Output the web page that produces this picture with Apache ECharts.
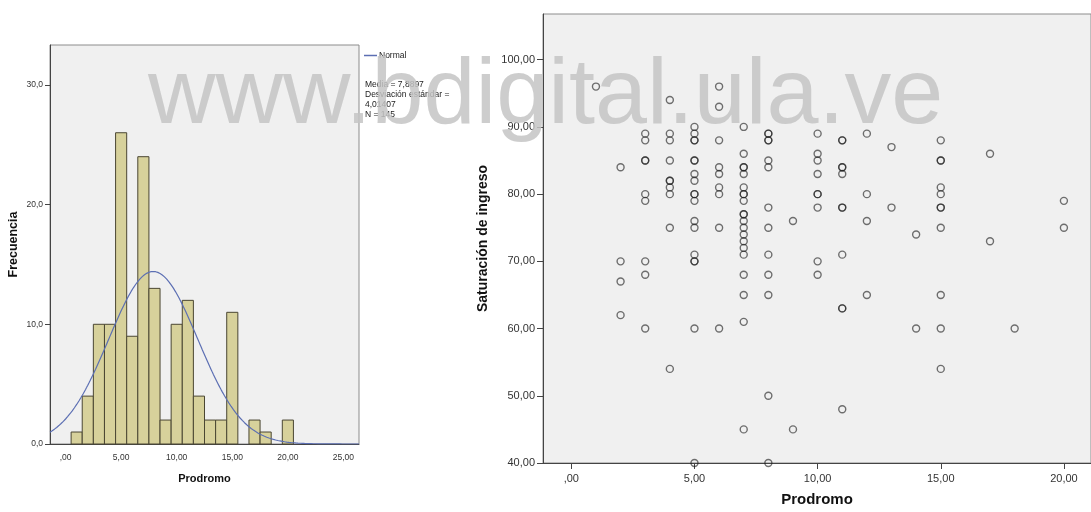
<!DOCTYPE html>
<html>
<head>
<meta charset="utf-8">
<script src="https://cdn.jsdelivr.net/npm/echarts@6/dist/echarts.min.js"></script>
<style>
  html, body { margin: 0; padding: 0; background: #ffffff; }
  #chart { width: 1091px; height: 512px; }
</style>
</head>
<body>
<div id="chart"></div>
<script>
// Histograma de Prodromo: frecuencia por valor entero
const histBins   = [1, 2, 3, 4, 5, 6, 7, 8, 9, 10, 11, 12, 13, 14, 15, 16, 17, 18, 19, 20];
const histCounts = [1, 4, 10, 10, 26, 9, 24, 13, 2, 10, 12, 4, 2, 2, 11, 0, 2, 1, 0, 2];

// Estadísticos de la curva normal ajustada
const normalMean = 7.8897;
const normalSD = 4.01407;
const normalN = 145;

// Marcas de los ejes
const histXTicks = [0, 5, 10, 15, 20, 25];
const histXTickLabels = [',00', '5,00', '10,00', '15,00', '20,00', '25,00'];
const histYTicks = [0, 10, 20, 30];
const histYTickLabels = ['0,0', '10,0', '20,0', '30,0'];
const scatterXTicks = [0, 5, 10, 15, 20];
const scatterXTickLabels = [',00', '5,00', '10,00', '15,00', '20,00'];
const scatterYTicks = [40, 50, 60, 70, 80, 90, 100];
const scatterYTickLabels = ['40,00', '50,00', '60,00', '70,00', '80,00', '90,00', '100,00'];

// Dispersión: Prodromo vs. Saturación de ingreso
const scatterProdromo = [
  1,
  2, 2, 2, 2,
  3, 3, 3, 3, 3, 3, 3, 3, 3,
  4, 4, 4, 4, 4, 4, 4, 4, 4, 4,
  5, 5, 5, 5, 5, 5, 5, 5, 5, 5, 5, 5, 5, 5, 5, 5, 5, 5,
  6, 6, 6, 6, 6, 6, 6, 6, 6,
  7, 7, 7, 7, 7, 7, 7, 7, 7, 7, 7, 7, 7, 7, 7, 7, 7, 7, 7, 7, 7,
  8, 8, 8, 8, 8, 8, 8, 8, 8, 8, 8, 8, 8,
  9, 9,
  10, 10, 10, 10, 10, 10, 10, 10, 10,
  11, 11, 11, 11, 11, 11, 11, 11, 11, 11, 11,
  12, 12, 12, 12,
  13, 13,
  14, 14,
  15, 15, 15, 15, 15, 15, 15, 15, 15, 15, 15,
  17, 17,
  18,
  20, 20
];
const scatterSaturacion = [
  96,
  84, 70, 67, 62,
  89, 88, 85, 85, 80, 79, 70, 68, 60,
  94, 89, 88, 85, 82, 82, 81, 80, 75, 54,
  90, 89, 88, 88, 85, 85, 83, 82, 80, 80, 79, 76, 75, 71, 70, 70, 60, 40,
  96, 93, 88, 84, 83, 81, 80, 75, 60,
  90, 86, 84, 84, 83, 81, 80, 80, 79, 77, 77, 76, 75, 74, 73, 72, 71, 68, 65, 61, 45,
  89, 89, 88, 88, 85, 84, 78, 75, 71, 68, 65, 50, 40,
  76, 45,
  89, 86, 85, 83, 80, 80, 78, 70, 68,
  88, 88, 84, 84, 83, 78, 78, 71, 63, 63, 48,
  89, 80, 76, 65,
  87, 78,
  74, 60,
  88, 85, 85, 81, 80, 78, 78, 75, 65, 60, 54,
  86, 73,
  60,
  79, 75
];

const HIST_X_MIN = -1.4, HIST_X_MAX = 26.4;

// Curva normal escalada a frecuencias (ancho de intervalo = 1)
const normalCurve = [];
for (let i = 0; i <= 278; i++) {
  const x = HIST_X_MIN + i * 0.1;
  const z = (x - normalMean) / normalSD;
  const y = normalN / (normalSD * Math.sqrt(2 * Math.PI)) * Math.exp(-0.5 * z * z);
  normalCurve.push([x, y]);
}

const histData = histBins.map((b, i) => [b, histCounts[i]]);
const scatterData = scatterProdromo.map((x, i) => [x, scatterSaturacion[i]]);

const FONT = '"Liberation Sans", Arial, sans-serif';
const labelFrom = (ticks, labels) => (v) => {
  const k = ticks.findIndex(t => Math.abs(t - v) < 1e-6);
  return k >= 0 ? labels[k] : '';
};

const chart = echarts.init(document.getElementById('chart'), null, { renderer: 'canvas' });

chart.setOption({
  animation: false,
  backgroundColor: '#ffffff',
  grid: [
    { left: 50, top: 45, width: 309, height: 399, show: true,
      backgroundColor: '#f0f0f0', borderColor: '#8c8c8c', borderWidth: 1 },
    { left: 543, top: 14, width: 560, height: 453, show: true,
      backgroundColor: '#f0f0f0', borderColor: '#8c8c8c', borderWidth: 1 }
  ],
  legend: {
    data: ['Normal'],
    left: 359, top: 46,
    icon: 'rect', itemWidth: 13, itemHeight: 1.5, itemGap: 4,
    textStyle: { fontFamily: FONT, fontSize: 8.5, color: '#222', padding: [0, 0, 0, -3] }
  },
  xAxis: [
    {
      type: 'value', gridIndex: 0, min: HIST_X_MIN, max: HIST_X_MAX,
      name: 'Prodromo', nameLocation: 'middle', nameGap: 29,
      nameTextStyle: { fontFamily: FONT, fontSize: 11, fontWeight: 'bold', color: '#111' },
      axisLine: { show: true, onZero: false, lineStyle: { color: '#444', width: 1 } },
      axisTick: { show: false },
      axisLabel: { customValues: histXTicks, formatter: labelFrom(histXTicks, histXTickLabels),
        fontFamily: FONT, fontSize: 8.5, color: '#333', margin: 9 },
      splitLine: { show: false }
    },
    {
      type: 'value', gridIndex: 1, min: -1.15, max: 21.1,
      name: 'Prodromo', nameLocation: 'middle', nameGap: 29,
      nameTextStyle: { fontFamily: FONT, fontSize: 15, fontWeight: 'bold', color: '#111' },
      axisLine: { show: true, onZero: false, lineStyle: { color: '#444', width: 1 } },
      axisTick: { show: true, customValues: scatterXTicks, length: 6, lineStyle: { color: '#444' } },
      axisLabel: { customValues: scatterXTicks, formatter: labelFrom(scatterXTicks, scatterXTickLabels),
        fontFamily: FONT, fontSize: 11, color: '#333', margin: 10 },
      splitLine: { show: false }
    }
  ],
  yAxis: [
    {
      type: 'value', gridIndex: 0, min: 0, max: 33.33,
      name: 'Frecuencia', nameLocation: 'middle', nameGap: 30,
      nameTextStyle: { fontFamily: FONT, fontSize: 12.5, fontWeight: 'bold', color: '#111' },
      axisLine: { show: true, onZero: false, lineStyle: { color: '#444', width: 1 } },
      axisTick: { show: true, customValues: histYTicks, length: 5, lineStyle: { color: '#444' } },
      axisLabel: { customValues: histYTicks, formatter: labelFrom(histYTicks, histYTickLabels),
        fontFamily: FONT, fontSize: 8.5, color: '#333', margin: 7 },
      splitLine: { show: false }
    },
    {
      type: 'value', gridIndex: 1, min: 40, max: 106.8,
      name: 'Saturación de ingreso', nameLocation: 'middle', nameGap: 53,
      nameTextStyle: { fontFamily: FONT, fontSize: 14, fontWeight: 'bold', color: '#111' },
      axisLine: { show: true, onZero: false, lineStyle: { color: '#444', width: 1 } },
      axisTick: { show: true, customValues: scatterYTicks, length: 6, lineStyle: { color: '#444' } },
      axisLabel: { customValues: scatterYTicks, formatter: labelFrom(scatterYTicks, scatterYTickLabels),
        fontFamily: FONT, fontSize: 11, color: '#333', margin: 8 },
      splitLine: { show: false }
    }
  ],
  series: [
    {
      name: 'Frecuencia',
      type: 'custom',
      xAxisIndex: 0, yAxisIndex: 0,
      data: histData,
      renderItem: function (params, api) {
        const x = api.value(0), y = api.value(1);
        if (!y) return null;
        const p0 = api.coord([x - 0.5, y]);
        const p1 = api.coord([x + 0.5, 0]);
        return {
          type: 'rect',
          shape: { x: p0[0], y: p0[1], width: p1[0] - p0[0], height: p1[1] - p0[1] },
          style: { fill: '#d7d19b', stroke: '#4a4632', lineWidth: 1 }
        };
      },
      z: 2
    },
    {
      name: 'Normal',
      type: 'line',
      xAxisIndex: 0, yAxisIndex: 0,
      data: normalCurve,
      showSymbol: false,
      smooth: false,
      itemStyle: { color: '#5c6fb3' },
      lineStyle: { color: '#5c6fb3', width: 1.2 },
      z: 3
    },
    {
      name: 'Saturación de ingreso',
      type: 'scatter',
      xAxisIndex: 1, yAxisIndex: 1,
      data: scatterData,
      symbol: 'circle',
      symbolSize: 7,
      clip: true,
      itemStyle: { color: 'rgba(0,0,0,0)', borderColor: 'rgba(30,30,30,0.78)', borderWidth: 1.4 },
      z: 3
    }
  ],
  graphic: [
    {
      type: 'text', x: 365, y: 80, z: 5,
      style: {
        text: 'Media = 7,8897\nDesviación estándar =\n4,01407\nN = 145',
        font: '8.5px ' + FONT, fill: '#222', lineHeight: 10, verticalAlign: 'top'
      }
    },
    {
      type: 'text', x: 148, y: 97, z: 100, silent: true,
      style: {
        text: 'www.bdigital.ula.ve',
        font: '93.5px ' + FONT, fill: 'rgba(196,196,196,0.85)', verticalAlign: 'middle'
      }
    }
  ]
});
</script>
</body>
</html>
